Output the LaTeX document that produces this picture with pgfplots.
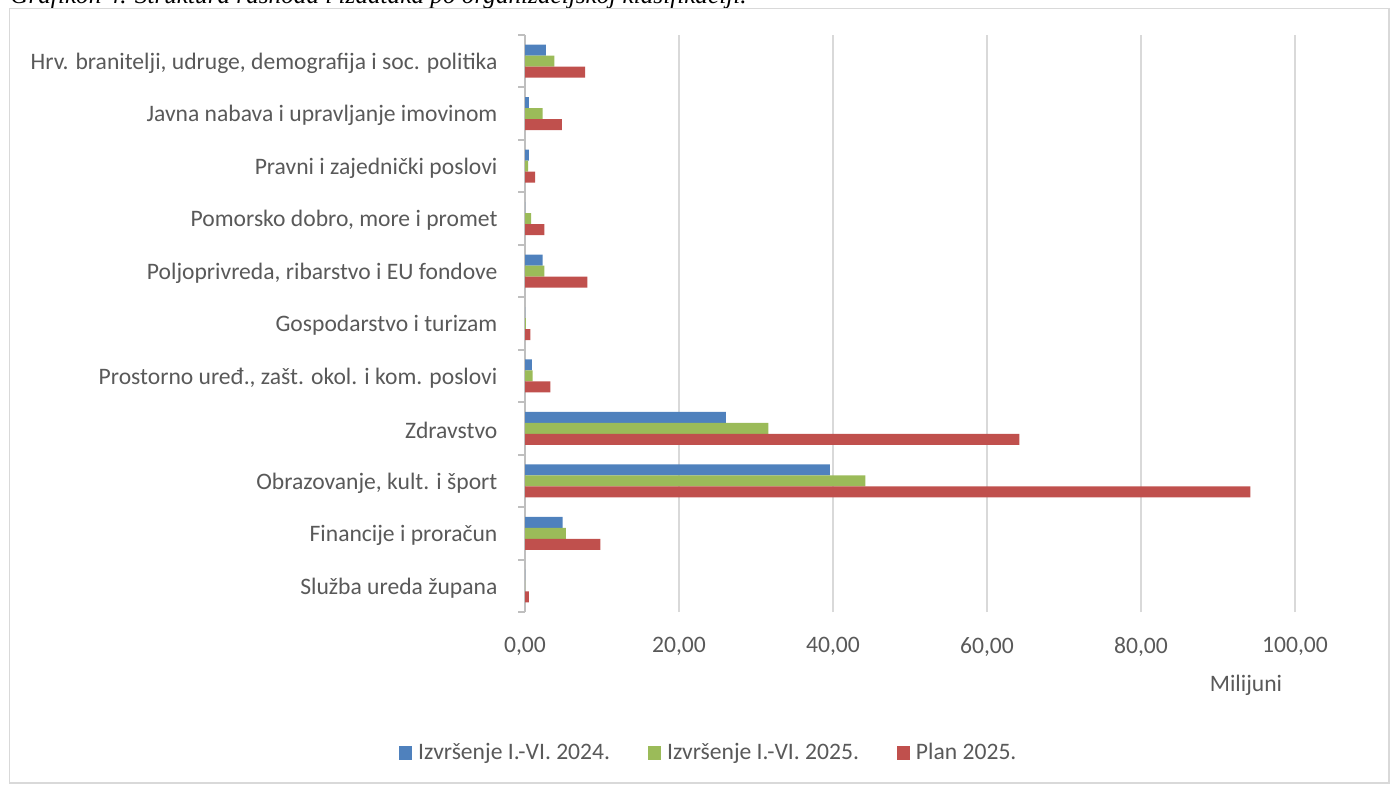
\documentclass[border=0pt]{standalone}
\usepackage{pgfplots}
\pgfplotsset{compat=1.18}
\usepackage{fontspec}
\setmainfont{Carlito}
\newfontfamily\timesfont{Liberation Serif}
\definecolor{cblue}{HTML}{4F81BD}
\definecolor{cgreen}{HTML}{9BBB59}
\definecolor{cred}{HTML}{C0504D}
\definecolor{txt}{HTML}{595959}
\definecolor{gridc}{HTML}{D9D9D9}
\definecolor{axisc}{HTML}{BFBFBF}
\begin{document}
\begin{tikzpicture}
\begin{scope}[x=0.5pt,y=-0.5pt]
\path[use as bounding box] (0,0) rectangle (1390,784);
\begin{scope}
\clip (0,0) rectangle (1390,784);
\node[anchor=base west, inner sep=0, font=\timesfont\itshape\fontsize{12.6}{14}\selectfont] at (10,3.5) {Grafikon 4. Struktura rashoda i izdataka po organizacijskoj klasifikaciji.};
\end{scope}
\draw[gridc, line width=0.7pt] (9.5,8.5) rectangle (1389,783);
\node[font=\fontsize{11.8}{14}\selectfont, text=txt] at (1246,685) {Milijuni};
\end{scope}
\begin{axis}[
  at={(262.5pt,-306pt)}, anchor=south west,
  scale only axis, width=385pt, height=288.5pt,
  xbar, bar width=5.5pt,
  xmin=0, xmax=100, ymin=-0.5, ymax=10.5,
  axis lines*=left,
  x axis line style={draw=none},
  y axis line style={draw=axisc, line width=1pt},
  xtick={0,20,...,100},
  xmajorgrids, grid style={gridc, line width=1pt},
  major x tick style={draw=none},
  xticklabel style={font=\fontsize{11.8}{14}\selectfont, text=txt, yshift=-5pt},
  /pgf/number format/.cd, fixed, fixed zerofill, precision=2, use comma, 1000 sep={}, assume math mode=true,
  /pgfplots/.cd,
  ytick={0,...,10},
  yticklabels={Služba ureda župana, Financije i proračun, {Obrazovanje, kult. i šport}, Zdravstvo, {Prostorno uređ., zašt. okol. i kom. poslovi}, Gospodarstvo i turizam, {Poljoprivreda, ribarstvo i EU fondove}, {Pomorsko dobro, more i promet}, Pravni i zajednički poslovi, Javna nabava i upravljanje imovinom, {Hrv. branitelji, udruge, demografija i soc. politika}},
  yticklabel style={font=\fontsize{11.8}{14}\selectfont, text=txt, xshift=-6pt, yshift=-1pt},
  major y tick style={draw=none},
  minor ytick={-0.5,0.5,...,10.5},
  minor tick length=3.5pt,
  minor y tick style={draw=axisc, line width=1pt},
  tick align=outside, tick pos=left,
  legend columns=3,
  legend style={at={(0.24,-0.2444)}, anchor=center, draw=none, fill=none,
    font=\fontsize{11.8}{14}\selectfont, text=txt,
    /tikz/every odd column/.append style={column sep=1pt},
    /tikz/every even column/.append style={column sep=17pt}},
  legend image code/.code={\fill[#1] (0pt,-3.5pt) rectangle (6.5pt,3.5pt);},
]
\addplot[fill=cblue, draw=none, bar shift=5.5pt] coordinates {
(0,0) (4.9,1) (39.6,2) (26.1,3) (0.9,4) (0,5) (2.3,6) (0,7) (0.5,8) (0.5,9) (2.7,10)};
\addplot[fill=cgreen, draw=none, bar shift=0pt] coordinates {
(0,0) (5.3,1) (44.2,2) (31.6,3) (1.0,4) (0.1,5) (2.5,6) (0.8,7) (0.4,8) (2.3,9) (3.8,10)};
\addplot[fill=cred, draw=none, bar shift=-5.5pt] coordinates {
(0.5,0) (9.8,1) (94.2,2) (64.2,3) (3.3,4) (0.7,5) (8.1,6) (2.5,7) (1.3,8) (4.8,9) (7.8,10)};
\legend{Izvršenje I.-VI. 2024., Izvršenje I.-VI. 2025., Plan 2025.}
\end{axis}
\end{tikzpicture}
\end{document}
